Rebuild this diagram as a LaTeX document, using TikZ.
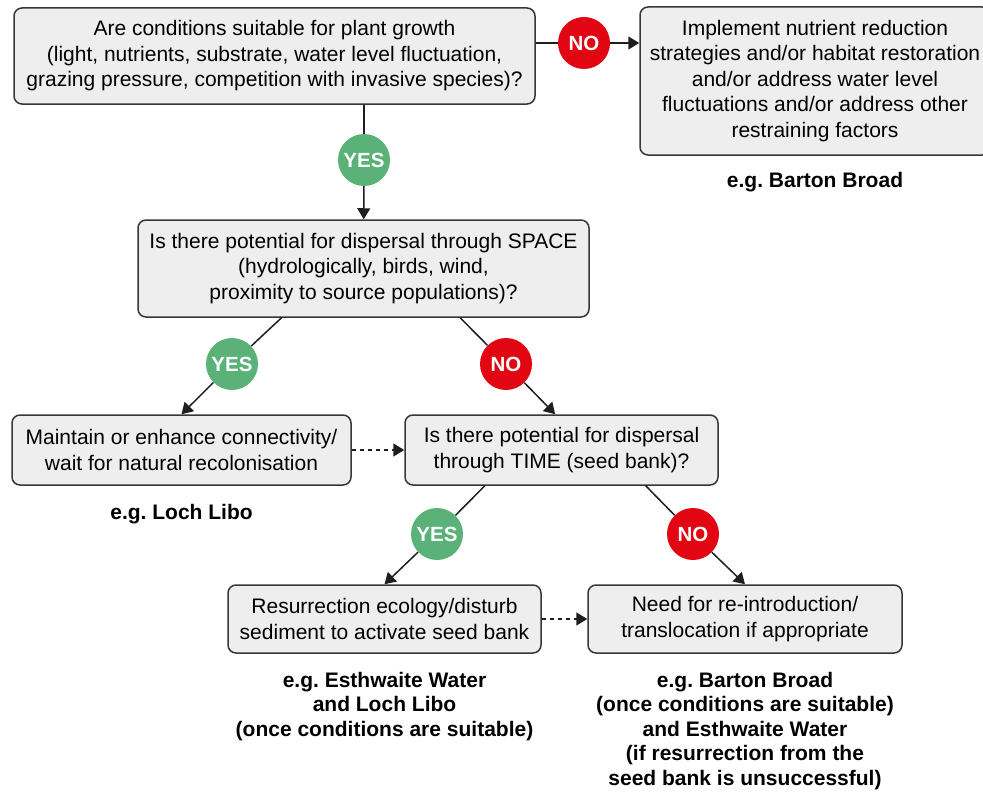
\documentclass[tikz,border=0pt]{standalone}
\usepackage{fontspec}
\setmainfont{Liberation Sans}
\frenchspacing
\usepackage{tikz}
\usetikzlibrary{arrows.meta}
\usetikzlibrary{positioning}
\definecolor{leafgreen}{RGB}{90, 178, 120}
\definecolor{stopred}{RGB}{226, 6, 19}
\definecolor{panelgray}{RGB}{238, 238, 238}
\definecolor{rimgray}{RGB}{55, 55, 55}
\definecolor{inkgray}{RGB}{30, 30, 30}
\tikzset{
  stepbox/.style={draw=rimgray, fill=panelgray, line width=1.5pt, rounded corners=8pt,
                  align=center, inner sep=2pt, font=\fontsize{21}{25.5}\selectfont},
  answer/.style={circle, minimum size=52pt, inner sep=0pt, text=white,
                 font=\bfseries\fontsize{20.5}{20.5}\selectfont},
  yesdot/.style={answer, fill=leafgreen},
  nodot/.style={answer, fill=stopred},
  example/.style={align=center, inner sep=0pt, font=\bfseries\fontsize{21}{24.5}\selectfont},
  link/.style={draw=inkgray, line width=1.5pt},
  tip/.style={-{Triangle[length=11pt,width=13pt]}},
  hint/.style={link, dash pattern=on 4.5pt off 3.5pt}
}

\begin{document}
\begin{tikzpicture}[x=1pt, y=-1pt]
            % Frame to ensure alignment:
            \useasboundingbox                                            (0, 0)       rectangle (983, 792);
            \node[stepbox, minimum width=521pt, minimum height=96pt] (q1)   at (274.5, 56)  {Are conditions suitable for plant growth\\(light, nutrients, substrate, water level fluctuation,\\grazing pressure, competition with invasive species)?};
            \node[stepbox, minimum width=350pt, minimum height=148pt](act1) at (815, 81)     {Implement nutrient reduction\\strategies and/or habitat restoration\\and/or address water level\\fluctuations and/or address other\\restraining factors};
            \node[stepbox, minimum width=451pt, minimum height=97pt] (q2)   at (363.5, 268.5){Is there potential for dispersal through SPACE\\(hydrologically, birds, wind,\\proximity to source populations)?};
            \node[stepbox, minimum width=339pt, minimum height=70pt] (act2) at (181.5, 450)  {Maintain or enhance connectivity/\\wait for natural recolonisation};
            \node[stepbox, minimum width=313pt, minimum height=70pt] (q3)   at (561.5, 450)  {Is there potential for dispersal\\through TIME (seed bank)?};
            \node[stepbox, minimum width=313pt, minimum height=68pt] (act3) at (384.5, 619)  {Resurrection ecology/disturb\\sediment to activate seed bank};
            \node[stepbox, minimum width=314pt, minimum height=68pt] (act4) at (745, 619)    {Need for re-introduction/\\translocation if appropriate};

            \node[nodot]  (no1)  at (584, 43)  {NO};
            \node[yesdot] (yes1) at (364, 160) {YES};
            \node[yesdot] (yes2) at (232, 364) {YES};
            \node[nodot]  (no2)  at (506, 364) {NO};
            \node[yesdot] (yes3) at (437, 534) {YES};
            \node[nodot]  (no3)  at (693, 534) {NO};

            \node[example, below=16pt of act1] (eg1) {e.g. Barton Broad};
            \node[example, below=18pt of act2] (eg2) {e.g. Loch Libo};
            \node[example, below=18pt of act3] (eg3) {e.g. Esthwaite Water\\and Loch Libo\\(once conditions are suitable)};
            \node[example, below=18pt of act4] (eg4) {e.g. Barton Broad\\(once conditions are suitable)\\and Esthwaite Water\\(if resurrection from the\\seed bank is unsuccessful)};

            \draw[link]      (no1 -| q1.east) -- (no1);
            \draw[link, tip] (no1)            -- (no1 -| act1.west);
            \draw[link]      (yes1 |- q1.south) -- (yes1);
            \draw[link, tip] (yes1)           -- (q2);
            \draw[link]      (q2.211.7)       -- (yes2);
            \draw[link, tip] (yes2)           -- (act2.north);
            \draw[link]      (q2.-27.2)       -- (no2);
            \draw[link, tip] (no2)            -- (q3.100.5);
            \draw[link]      (q3.205.2)       -- (yes3);
            \draw[link, tip] (yes3)           -- (act3.north);
            \draw[link]      (q3.-23.8)       -- (no3);
            \draw[link, tip] (no3)            -- (act4.north);
            \draw[hint, tip] (act2)           -- (q3);
            \draw[hint, tip] (act3)           -- (act4);
        \end{tikzpicture}
\end{document}
